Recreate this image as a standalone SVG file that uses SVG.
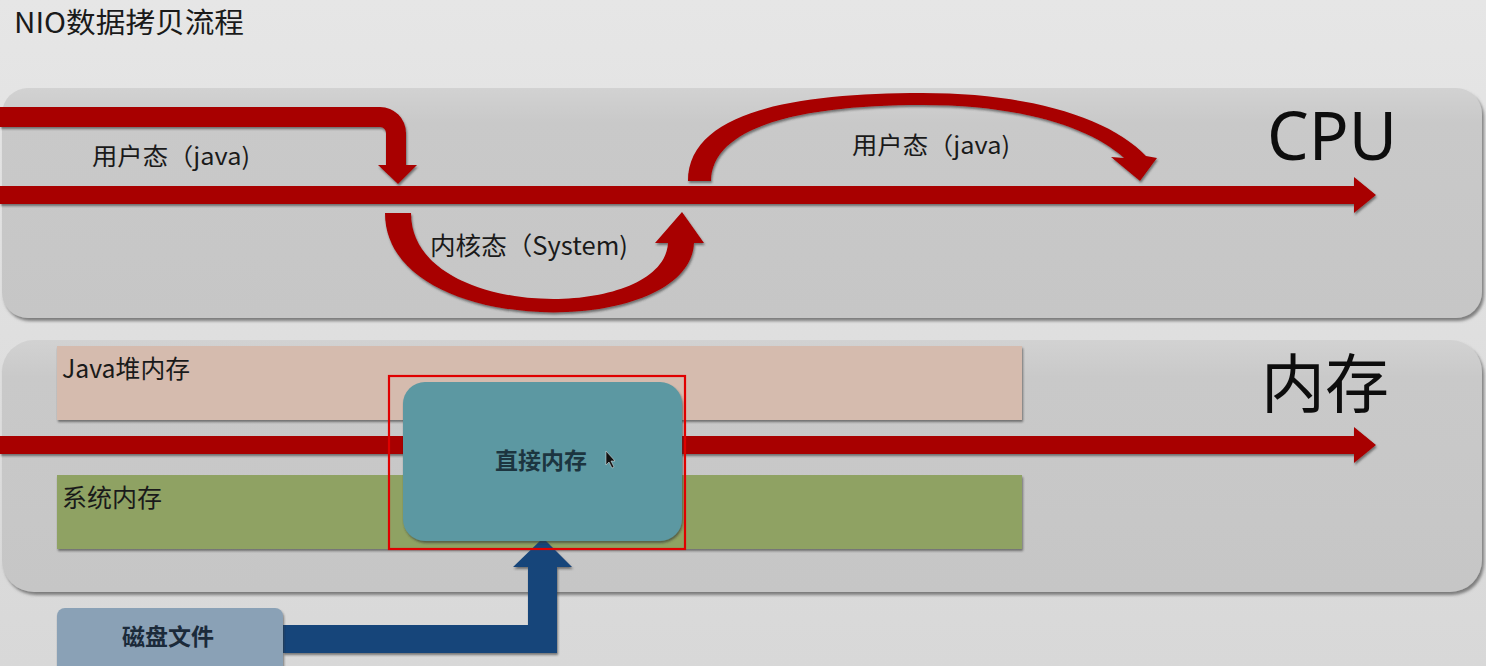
<svg xmlns="http://www.w3.org/2000/svg" width="1486" height="666" viewBox="0 0 1486 666">
<defs>
<linearGradient id="bg" x1="0" y1="0" x2="0" y2="1"><stop offset="0" stop-color="#e6e6e6"/><stop offset="1" stop-color="#d8d8d8"/></linearGradient>
<linearGradient id="panel" x1="0" y1="0" x2="0" y2="1"><stop offset="0" stop-color="#d2d2d2"/><stop offset="0.15" stop-color="#c9c9c9"/><stop offset="1" stop-color="#c6c6c6"/></linearGradient>
<filter id="sh" x="-5%" y="-10%" width="110%" height="130%"><feDropShadow dx="2" dy="3" stdDeviation="1.5" flood-color="#555" flood-opacity="0.7"/></filter>
<filter id="sh2" x="-5%" y="-10%" width="110%" height="130%"><feDropShadow dx="1" dy="2" stdDeviation="1.2" flood-color="#333" flood-opacity="0.6"/></filter>
<style>
.t{font-family:"Noto Sans CJK SC","Noto Sans",sans-serif;fill:#1a1a1a}
.red{fill:#a80000}
.lbl{font-size:24px}
.big{font-family:"Noto Sans","Noto Sans CJK SC",sans-serif;fill:#0d0d0d}
</style>
</defs>
<rect width="1486" height="666" fill="url(#bg)"/>
<text class="t" x="14" y="33" font-size="28" textLength="230" lengthAdjust="spacingAndGlyphs">NIO数据拷贝流程</text>

<g id="cpu">
<rect x="2" y="88" width="1480" height="230" rx="26" fill="url(#panel)" filter="url(#sh)"/>
<text class="big" x="1267" y="160" font-size="68" textLength="130" lengthAdjust="spacingAndGlyphs">CPU</text>
</g>

<g id="memory">
<rect x="2" y="340" width="1480" height="252" rx="32" fill="url(#panel)" filter="url(#sh)"/>
<text class="big" x="1261" y="407" font-size="64" style="font-family:'Noto Sans CJK SC',sans-serif">内存</text>
</g>

<g id="java-heap">
<rect x="57" y="346" width="965" height="74" fill="#d5bbae" filter="url(#sh2)"/>
<text class="t" x="62" y="378" font-size="25" textLength="128" lengthAdjust="spacingAndGlyphs">Java堆内存</text>
</g>

<g id="system-memory">
<rect x="57" y="475" width="965" height="74" fill="#8fa263" filter="url(#sh2)"/>
<text class="t" x="62" y="507" font-size="25">系统内存</text>
</g>

<g id="connectors">
<path class="red" filter="url(#sh2)" d="M0,107 H380 A26,26 0 0 1 406,133 V165 H417 L398,184 L378,165 H386 V133 A6,6 0 0 0 380,127 H0 Z"/>
<path class="red" filter="url(#sh2)" d="M0,186 H1354 V177 L1376,195 L1354,213 V204 H0 Z"/>
<path class="red" filter="url(#sh2)" d="M385,213 H411 C411,322 664,322 668,243 H655 L682,212 L704,243 H694 C690,340 385,340 385,213 Z"/>
<path class="red" filter="url(#sh2)" d="M688,181 C688,110 800,93 922,93 C1030,93 1110,118 1146,156 L1157,158 L1140,181 L1111,157 L1124,158 C1090,127 1020,105 922,105 C815,105 712,122 711,181 Z"/>
<path class="red" filter="url(#sh2)" d="M0,436 H1354 V427 L1376,445 L1354,463 V454 H0 Z"/>
<path fill="#17457a" filter="url(#sh2)" d="M283,625 H528 V567 H513 L543,538 L572,567 H557 V653 H283 Z"/>
</g>

<g id="direct-memory">
<rect x="403" y="382" width="279" height="159" rx="22" fill="#5b98a2" filter="url(#sh2)"/>
<rect x="389" y="376" width="296" height="173" fill="none" stroke="#e00000" stroke-width="2.2"/>
<text class="t" x="541" y="469" font-size="23" font-weight="bold" text-anchor="middle" style="fill:#1c3540">直接内存</text>
<path d="M606,451 L606,465 L609,462 L612,468 L614,467 L611,461 L615,461 Z" fill="#111" stroke="#eee" stroke-width="0.5"/>
</g>

<g id="disk-file">
<rect x="57" y="608" width="226" height="70" rx="8" fill="#8aa1b6" filter="url(#sh2)"/>
<text class="t" x="168" y="645" font-size="23" font-weight="bold" text-anchor="middle" style="fill:#1b2a3a">磁盘文件</text>
</g>

<g id="labels">
<text class="t lbl" x="92" y="165" textLength="158" lengthAdjust="spacingAndGlyphs">用户态（java)</text>
<text class="t lbl" x="852" y="154" textLength="158" lengthAdjust="spacingAndGlyphs">用户态（java)</text>
<text class="t" x="430" y="255" font-size="25" textLength="198" lengthAdjust="spacingAndGlyphs">内核态（System)</text>
</g>
</svg>
